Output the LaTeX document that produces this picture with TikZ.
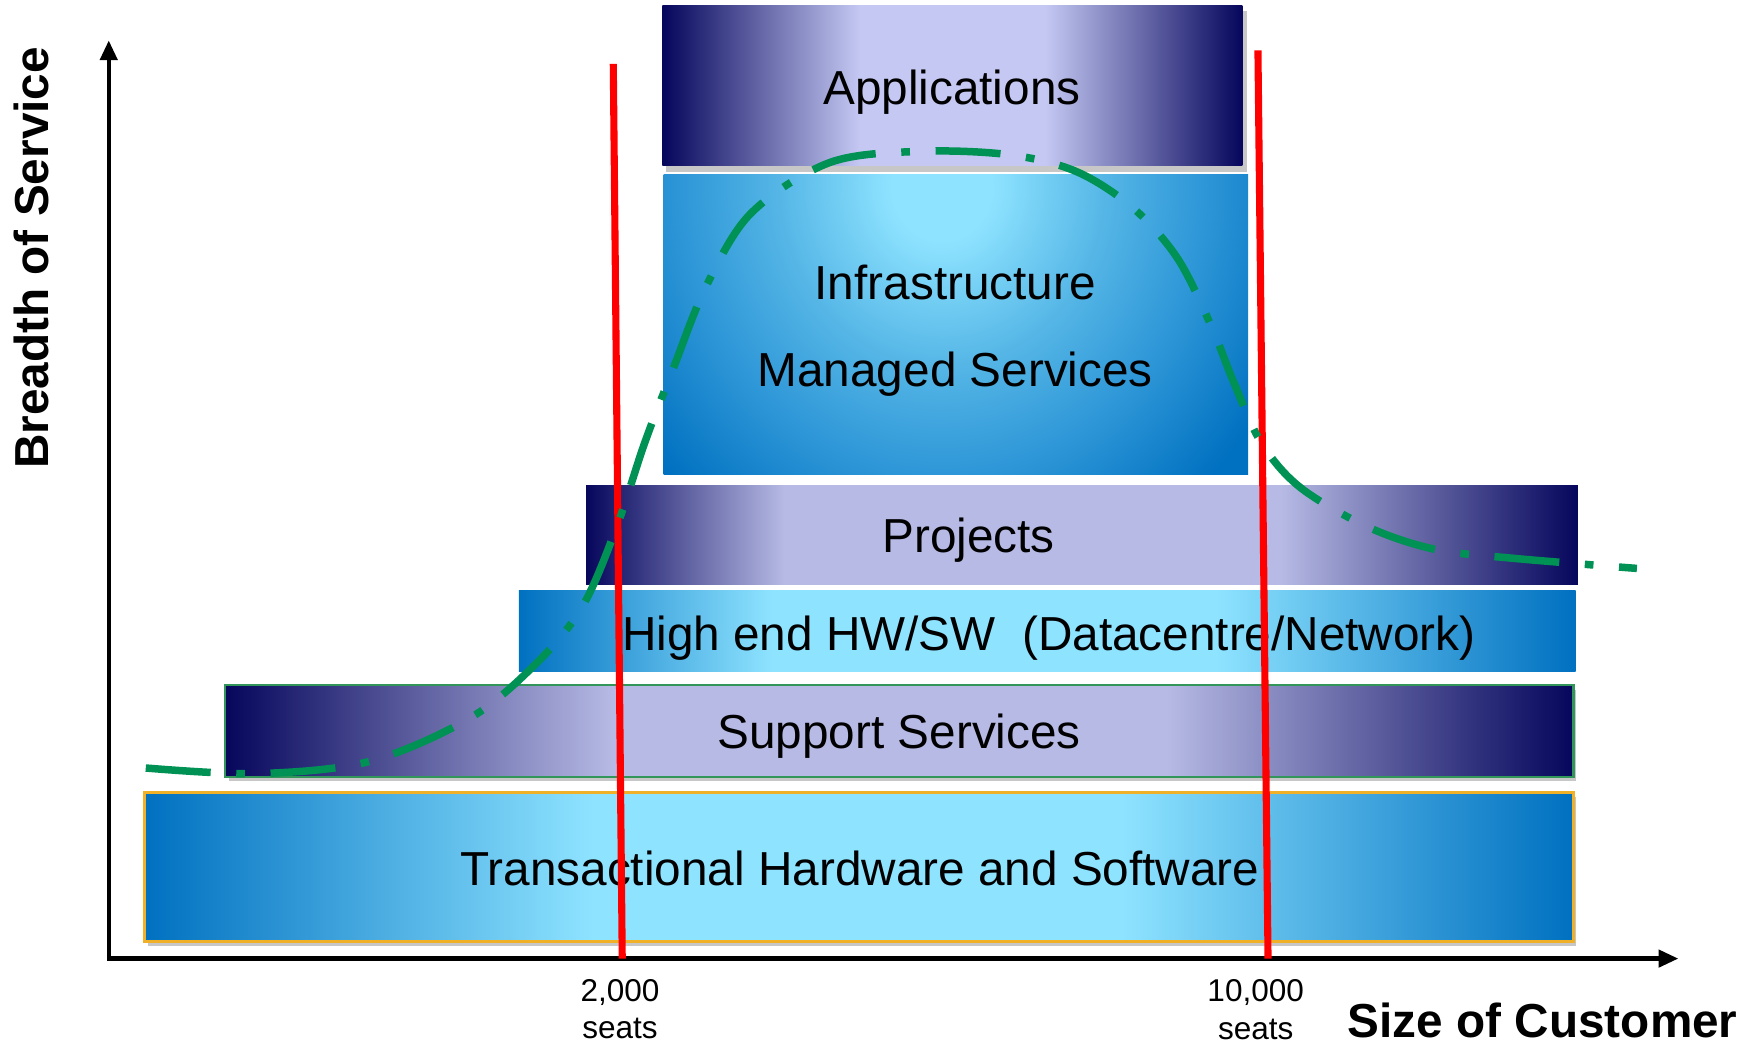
\documentclass[tikz,border=0pt]{standalone}
\usepackage{fontspec}
\setmainfont{Liberation Sans}
\usetikzlibrary{arrows.meta}
\definecolor{navy}{RGB}{6,6,92}
\definecolor{lav}{RGB}{182,186,228}
\definecolor{lavlight}{RGB}{196,200,242}
\definecolor{bdark}{RGB}{0,112,192}
\definecolor{blight}{RGB}{142,227,255}
\definecolor{bmid}{RGB}{45,150,215}
\definecolor{bmidlight}{RGB}{85,182,230}
\definecolor{curvegreen}{RGB}{0,145,84}
\definecolor{redline}{RGB}{255,0,0}
\definecolor{supborder}{RGB}{50,150,90}
\definecolor{trborder}{RGB}{240,176,40}

\pgfdeclarehorizontalshading{appshade}{100bp}{color(0bp)=(navy); color(25bp)=(navy); color(42bp)=(lavlight); color(58bp)=(lavlight); color(75bp)=(navy); color(100bp)=(navy)}
\pgfdeclarehorizontalshading{projshade}{100bp}{color(0bp)=(navy); color(25bp)=(navy); color(35bp)=(lav); color(60bp)=(lav); color(75bp)=(navy); color(100bp)=(navy)}
\pgfdeclarehorizontalshading{supshade}{100bp}{color(0bp)=(navy); color(25bp)=(navy); color(39.4bp)=(lav); color(59.9bp)=(lav); color(75bp)=(navy); color(100bp)=(navy)}
\pgfdeclarehorizontalshading{hwshade}{100bp}{color(0bp)=(bdark); color(25bp)=(bdark); color(37bp)=(blight); color(58bp)=(blight); color(75bp)=(bdark); color(100bp)=(bdark)}
\pgfdeclarehorizontalshading{trshade}{100bp}{color(0bp)=(bdark); color(25bp)=(bdark); color(40.7bp)=(blight); color(59.2bp)=(blight); color(75bp)=(bdark); color(100bp)=(bdark)}
\pgfdeclareradialshading{infrashade}{\pgfpointorigin}{color(0bp)=(blight); color(4bp)=(blight); color(13bp)=(bmidlight); color(21bp)=(bmid); color(30bp)=(bdark); color(50bp)=(bdark)}

\begin{document}
\begin{tikzpicture}[x=0.01cm,y=-0.01cm,
  boxtext/.style={font=\fontsize{12.1}{14}\selectfont, anchor=base, inner sep=0pt},
  lbl/.style={font=\fontsize{8}{9.6}\selectfont, anchor=base, inner sep=0pt},
  axtitle/.style={font=\bfseries\fontsize{12.1}{14}\selectfont, anchor=base, inner sep=0pt},
  bandframe/.style={rectangle, inner sep=0pt, outer sep=0pt},
  band/.style={bandframe, shade},
  shadowbox/.style={fill=black, opacity=0.22},
  axisline/.style={line width=1.1pt, {Triangle[length=5pt,width=4.3pt]}-{Triangle[length=5pt,width=4.3pt]}},
  seatline/.style={draw=redline, line width=1.8pt},
  trend/.style={draw=curvegreen, line width=1.9pt, dash pattern=on 16.5pt off 6.5pt on 2.2pt off 6.5pt}
]
\useasboundingbox (0,0) rectangle (1568,931);

% shadows
\fill[shadowbox] (594,10) rectangle (1112,153);
\fill[shadowbox] (204,615) rectangle (1406,697);
\fill[shadowbox] (132,711) rectangle (1406,844);

% bands
\node[band, shading=appshade, minimum width=5.17cm, minimum height=1.43cm] (app) at (849.5,76.5) {};
\node[bandframe, minimum width=5.21cm, minimum height=2.67cm] (infra) at (852.5,289.5) {};
\begin{scope}
  \clip (infra.north west) rectangle (infra.south east);
  \shade[shading=infrashade] (560,-145) rectangle (1120,475);
\end{scope}
\node[band, shading=projshade, minimum width=8.84cm, minimum height=0.88cm] (proj) at (965,477) {};
\node[band, shading=hwshade, minimum width=9.42cm, minimum height=0.72cm] (hw) at (934,563) {};
\node[band, shading=supshade, draw=supborder, line width=0.6pt, minimum width=12.02cm, minimum height=0.82cm] (sup) at (802,652) {};
\node[band, shading=trshade, draw=trborder, line width=0.7pt, minimum width=12.74cm, minimum height=1.33cm] (tr) at (766,773.5) {};

% band texts
\node[boxtext] (appT) at (849,93) {Applications};
\node[boxtext] (infraT) at (852,267) {Infrastructure};
\node[boxtext] (manT) at (852,345) {Managed Services};
\node[boxtext] (projT) at (864,493) {Projects};
\node[boxtext] (hwT) at (935.5,580) {High end HW/SW\ \ (Datacentre/Network)};
\node[boxtext] (supT) at (802,668) {Support Services};
\node[boxtext] (trT) at (767,790) {Transactional Hardware and Software};

% axes
\coordinate (O) at (97,855);
\coordinate (ytip) at (97,36);
\coordinate (xtip) at (1497,855);
\draw[axisline] (ytip) -- (O) -- (xtip);
\node[axtitle, rotate=90] (ytitle) at (43,230) {Breadth of Service};
\node[axtitle] (xtitle) at (1376,925) {Size of Customer};

% seat thresholds
\coordinate (r1t) at (547,57);
\coordinate (r1b) at (555,855);
\coordinate (r2t) at (1122,45);
\coordinate (r2b) at (1131,855);
\draw[seatline] (r1t) -- (r1b);
\draw[seatline] (r2t) -- (r2b);
\node[lbl] (l1a) at (553,893) {2,000};
\node[lbl] (l1b) at (553,926) {seats};
\node[lbl] (l2a) at (1120,893) {10,000};
\node[lbl] (l2b) at (1120,927) {seats};

% trend curve
\draw[trend] plot[smooth, tension=0.55] coordinates {(130,685) (230,690) (330,679) (420,640) (480,590) (520,540) (550,470) (575,395) (600,330) (630,255) (670,190) (740,145) (820,135) (900,138) (960,153) (1010,185) (1050,230) (1080,290) (1100,340) (1125,395) (1160,435) (1220,470) (1280,490) (1350,498) (1460,507)};
\end{tikzpicture}
\end{document}
